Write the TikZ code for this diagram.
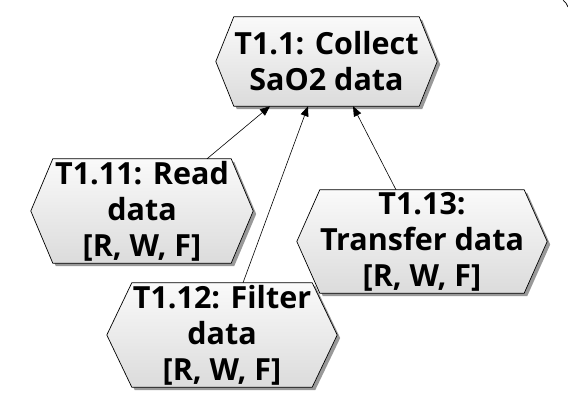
\documentclass[tikz,border=0pt]{standalone}
\usepackage{fontspec}
\setmainfont{Open Sans}
\usetikzlibrary{arrows.meta,backgrounds,calc}
\tikzset{
  hexlabel/.style={align=center, inner sep=0pt, text=black,
    font=\fontsize{30.5}{36}\selectfont\bfseries},
  hexfill/.style={draw=black, line width=0.7pt,
    top color=white!98!black, bottom color=white!86!black},
  hexshadow/.style={fill=black!40, draw=none},
  link/.style={draw=black, line width=0.6pt, -{Triangle[length=10pt,width=8pt]}},
}
\newcommand\hexdeco[2]{%
  \begin{pgfonlayer}{background}
    \fill[hexshadow] ($(#1.north west)+(#2+3pt,-3pt)$) -- ($(#1.north east)+(-#2+3pt,-3pt)$)
      -- ($(#1.east)+(3pt,-3pt)$) -- ($(#1.south east)+(-#2+3pt,-3pt)$)
      -- ($(#1.south west)+(#2+3pt,-3pt)$) -- ($(#1.west)+(3pt,-3pt)$) -- cycle;
    \path[hexfill] ($(#1.north west)+(#2,0)$) -- ($(#1.north east)+(-#2,0)$)
      -- (#1.east) -- ($(#1.south east)+(-#2,0)$)
      -- ($(#1.south west)+(#2,0)$) -- (#1.west) -- cycle;
  \end{pgfonlayer}}
\begin{document}
\begin{tikzpicture}[x=1pt,y=1pt]
  \useasboundingbox (0,0) rectangle (568,406);
  \node[hexlabel, minimum width=221pt, minimum height=89pt] (root) at (326.5,344.5) {T1.1: Collect\\SaO2 data};
  \hexdeco{root}{18pt}
  \node[hexlabel, minimum width=222pt, minimum height=104pt] (c11) at (142,195) {T1.11: Read\\data\\{[R, W, F]}};
  \hexdeco{c11}{22pt}
  \node[hexlabel, minimum width=250pt, minimum height=103pt] (c13) at (422,164.5) {T1.13:\\Transfer data\\{[R, W, F]}};
  \hexdeco{c13}{23pt}
  \node[hexlabel, minimum width=230pt, minimum height=104pt] (c12) at (222,71) {T1.12: Filter\\data\\{[R, W, F]}};
  \hexdeco{c12}{25pt}
  \draw[link] ([xshift=65pt]c11.north) -- ([xshift=-56.5pt]root.south);
  \draw[link] ([xshift=21pt]c12.north) -- ([xshift=-18.5pt]root.south);
  \draw[link] ([xshift=-26pt]c13.north) -- ([xshift=26.5pt]root.south);
  \coordinate (arcA) at (563,406);
  \coordinate (arcB) at (568,399);
  \draw[line width=0.7pt] (arcA) to[bend left=15] (arcB);
\end{tikzpicture}
\end{document}
